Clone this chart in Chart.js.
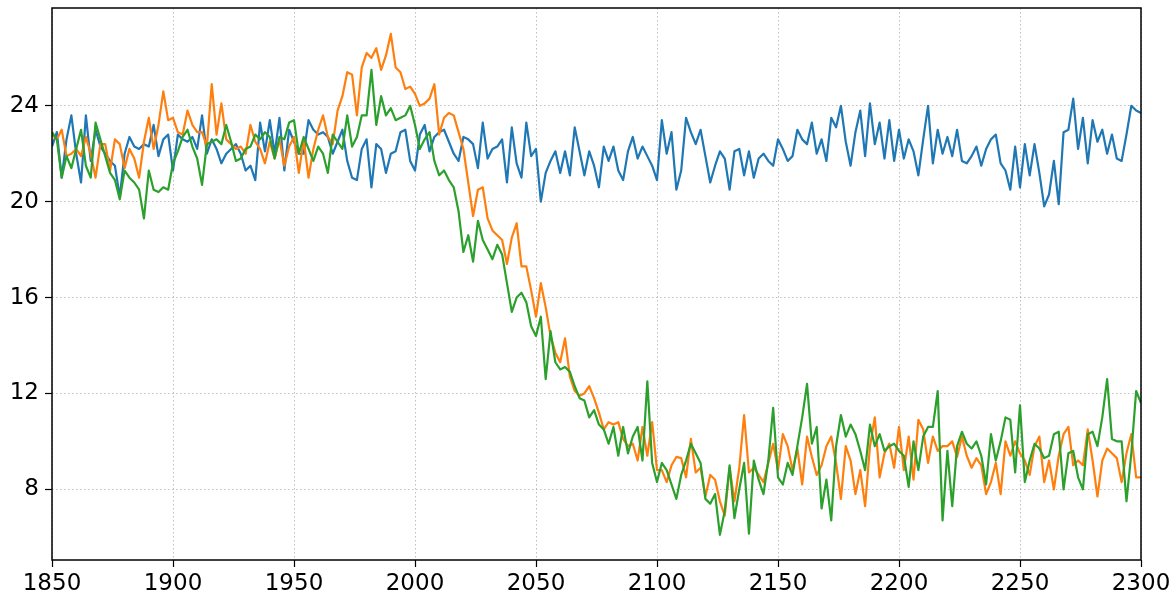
<!DOCTYPE html>
<html>
<head>
<meta charset="utf-8">
<script src="https://cdn.jsdelivr.net/npm/chart.js@4/dist/chart.umd.min.js"></script>
<style>
  html, body { margin: 0; padding: 0; background: #fff; }
  #chart { display: block; }
</style>
</head>
<body>
<canvas id="chart" width="1175" height="598"></canvas>
<script>
// --- Data (one value every 2 years) ---
const firstYear = 1850;
const yearStep = 2;
const xTicks = [1850, 1900, 1950, 2000, 2050, 2100, 2150, 2200, 2250, 2300];
const yTicks = [8, 12, 16, 20, 24];

const blueSeries = [
  22.3, 22.9, 21.0, 22.6, 23.6, 22.0, 20.8, 23.6, 21.7, 23.0,
  22.3, 22.0, 21.7, 21.5, 20.2, 22.0, 22.7, 22.3, 22.2, 22.4,
  22.3, 23.2, 21.9, 22.6, 22.8, 21.3, 22.8, 22.6, 22.5, 22.7,
  22.2, 23.6, 22.0, 22.6, 22.2, 21.6, 22.0, 22.2, 22.4, 22.0,
  21.3, 21.5, 20.9, 23.3, 22.1, 23.4, 22.0, 23.5, 21.3, 23.0,
  22.5, 22.0, 22.0, 23.4, 23.0, 22.8, 22.9, 22.7, 22.0, 22.5,
  23.0, 21.7, 21.0, 20.9, 22.2, 22.6, 20.6, 22.4, 22.2, 21.2,
  22.0, 22.1, 22.9, 23.0, 21.7, 21.3, 22.8, 23.2, 22.1, 22.7,
  22.9, 23.0, 22.5, 22.0, 21.7, 22.7, 22.6, 22.4, 21.4, 23.3,
  21.8, 22.2, 22.3, 22.6, 20.8, 23.1, 21.6, 21.0, 23.3, 21.9,
  22.2, 20.0, 21.2, 21.7, 22.1, 21.2, 22.1, 21.1, 23.1, 22.1,
  21.1, 22.1, 21.5, 20.6, 22.3, 21.7, 22.3, 21.3, 20.9, 22.1,
  22.7, 21.8, 22.3, 21.9, 21.5, 20.9, 23.4, 22.0, 22.9, 20.5,
  21.3, 23.5, 22.9, 22.4, 23.0, 21.9, 20.8, 21.5, 22.1, 21.8,
  20.5, 22.1, 22.2, 21.1, 22.1, 21.0, 21.8, 22.0, 21.7, 21.5,
  22.6, 22.2, 21.7, 21.9, 23.0, 22.6, 22.4, 23.3, 22.0, 22.6,
  21.7, 23.5, 23.1, 24.0, 22.5, 21.5, 22.9, 23.8, 21.9, 24.1,
  22.4, 23.3, 21.8, 23.4, 21.7, 23.0, 21.8, 22.6, 22.1, 21.1,
  22.6, 24.0, 21.6, 23.0, 22.0, 22.7, 21.9, 23.0, 21.7, 21.6,
  21.9, 22.3, 21.5, 22.2, 22.6, 22.8, 21.6, 21.3, 20.5, 22.3,
  20.6, 22.4, 21.1, 22.4, 21.2, 19.8, 20.3, 21.7, 19.9, 22.9,
  23.0, 24.3, 22.2, 23.5, 21.6, 23.4, 22.5, 23.0, 22.0, 22.8,
  21.8, 21.7, 22.8, 24.0, 23.8, 23.7
];

const orangeSeries = [
  22.8, 22.6, 23.0, 21.9, 22.0, 22.2, 21.9, 22.7, 22.0, 21.0,
  22.4, 22.4, 21.3, 22.6, 22.4, 21.4, 22.2, 21.8, 21.0, 22.5,
  23.5, 22.2, 23.2, 24.6, 23.4, 23.5, 22.9, 22.8, 23.8, 23.2,
  22.9, 22.9, 22.3, 24.9, 22.8, 24.1, 22.6, 22.4, 22.2, 22.3,
  22.0, 23.2, 22.5, 22.2, 21.6, 22.5, 21.8, 22.6, 21.5, 22.3,
  22.7, 21.2, 22.6, 21.0, 22.2, 23.0, 23.6, 22.7, 22.4, 23.8,
  24.4, 25.4, 25.3, 23.6, 25.6, 26.2, 26.0, 26.4, 25.5, 26.1,
  27.0, 25.6, 25.4, 24.7, 24.8, 24.5, 24.0, 24.1, 24.3, 24.9,
  22.8, 23.5, 23.7, 23.6, 22.9, 22.2, 20.8, 19.4, 20.5, 20.6,
  19.3, 18.8, 18.6, 18.4, 17.4, 18.5, 19.1, 17.3, 17.3, 16.3,
  15.2, 16.6, 15.6, 14.4, 13.7, 13.3, 14.3, 12.7, 12.1, 11.9,
  12.0, 12.3, 11.8, 11.2, 10.5, 10.8, 10.7, 10.8, 10.1, 9.8,
  9.9, 9.2, 10.6, 9.4, 10.8, 8.8, 8.8, 8.3, 9.0, 9.35,
  9.3, 8.5, 10.1, 8.7, 8.9, 7.7, 8.6, 8.4, 7.5, 6.9,
  8.9, 7.5, 8.9, 11.1, 8.7, 8.9, 8.6, 8.3, 9.1, 9.9,
  8.8, 10.3, 9.8, 8.8, 9.7, 8.2, 10.2, 9.35, 8.6, 9.0,
  9.8, 10.2, 9.1, 7.6, 9.8, 9.2, 7.8, 8.8, 7.3, 9.8,
  11.0, 8.5, 9.5, 9.9, 8.9, 10.6, 8.8, 10.2, 8.4, 10.9,
  10.5, 9.1, 10.2, 9.6, 9.8, 9.8, 10.0, 9.35, 10.2, 9.4,
  8.9, 9.3, 9.0, 7.8, 8.3, 9.1, 7.8, 10.0, 9.4, 10.0,
  9.5, 9.2, 8.6, 9.8, 10.2, 8.3, 9.2, 8.0, 9.4, 10.3,
  10.6, 9.0, 9.2, 9.0, 10.5, 9.2, 7.7, 9.2, 9.7, 9.5,
  9.3, 8.3, 9.5, 10.3, 8.5, 8.5
];

const greenSeries = [
  22.9, 22.6, 21.0, 21.9, 21.4, 22.2, 23.0, 21.5, 21.0, 23.3,
  22.6, 21.9, 21.2, 20.9, 20.1, 21.3, 21.0, 20.8, 20.5, 19.3,
  21.3, 20.5, 20.4, 20.6, 20.5, 21.6, 22.1, 22.7, 23.0, 22.3,
  21.8, 20.7, 22.4, 22.5, 22.6, 22.4, 23.2, 22.5, 21.7, 21.8,
  22.2, 22.3, 22.8, 22.6, 22.9, 22.7, 21.8, 22.7, 22.6, 23.3,
  23.4, 22.0, 22.7, 22.2, 21.7, 22.3, 22.0, 21.2, 22.8, 22.5,
  22.2, 23.6, 22.3, 22.7, 23.6, 23.6, 25.5, 23.2, 24.4, 23.6,
  23.9, 23.4, 23.5, 23.6, 24.0, 23.2, 22.2, 22.6, 22.9, 21.7,
  21.1, 21.3, 20.9, 20.6, 19.6, 17.9, 18.6, 17.5, 19.2, 18.4,
  18.0, 17.6, 18.2, 17.8, 16.6, 15.4, 16.0, 16.2, 15.8, 14.8,
  14.4, 15.2, 12.6, 14.6, 13.3, 13.0, 13.1, 12.9, 12.3, 11.8,
  11.7, 11.0, 11.3, 10.7, 10.5, 9.9, 10.6, 9.4, 10.6, 9.5,
  10.2, 10.6, 9.2, 12.5, 9.1, 8.3, 9.1, 8.8, 8.2, 7.6,
  8.6, 9.2, 9.9, 9.5, 9.1, 7.6, 7.4, 7.8, 6.1, 7.1,
  9.0, 6.8, 8.0, 9.1, 6.15, 9.2, 8.4, 7.8, 9.2, 11.4,
  8.5, 8.2, 9.1, 8.6, 9.8, 11.0, 12.4, 9.9, 10.6, 7.2,
  8.4, 6.7, 9.8, 11.1, 10.2, 10.7, 10.3, 9.6, 8.8, 10.7,
  9.8, 10.3, 9.6, 9.8, 9.9, 9.6, 9.4, 8.1, 10.0, 8.8,
  10.2, 10.6, 10.6, 12.1, 6.7, 9.6, 7.3, 9.8, 10.4, 9.9,
  9.7, 10.0, 9.4, 8.2, 10.3, 9.2, 10.0, 11.0, 10.9, 8.7,
  11.5, 8.3, 9.2, 9.9, 9.7, 9.3, 9.4, 10.3, 10.4, 8.0,
  9.5, 9.6, 8.5, 8.0, 10.3, 10.4, 9.8, 11.0, 12.6, 10.1,
  10.0, 10.0, 7.5, 9.5, 12.1, 11.6
];

function toPoints(values) {
  return values.map((v, i) => ({ x: firstYear + i * yearStep, y: v }));
}

// black frame round the plot area, like matplotlib spines
const frame = {
  id: 'frame',
  afterDraw(chart) {
    const a = chart.chartArea;
    const ctx = chart.ctx;
    ctx.save();
    ctx.strokeStyle = '#000';
    ctx.lineWidth = 1.5;
    ctx.strokeRect(a.left, a.top, a.right - a.left, a.bottom - a.top);
    ctx.restore();
  }
};

const tickFont = { family: 'DejaVu Sans', size: 23 };

function lineSet(values, color, order) {
  return {
    data: toPoints(values),
    borderColor: color,
    borderWidth: 2.2,
    pointRadius: 0,
    tension: 0,
    borderJoinStyle: 'round',
    order: order
  };
}

// fixed axis sizes so the plot area sits where the reference has it
function noPad(s) {
  s.paddingTop = 0; s.paddingBottom = 0;
  s.paddingLeft = 0; s.paddingRight = 0;
}

new Chart(document.getElementById('chart'), {
  type: 'line',
  data: {
    datasets: [
      lineSet(blueSeries, '#1f77b4', 3),
      lineSet(orangeSeries, '#ff7f0e', 2),
      lineSet(greenSeries, '#2ca02c', 1)
    ]
  },
  options: {
    responsive: false,
    animation: false,
    layout: { padding: { top: 8, right: 34, left: 0, bottom: 0 } },
    plugins: { legend: { display: false }, tooltip: { enabled: false } },
    scales: {
      x: {
        type: 'linear',
        min: 1850,
        max: 2300,
        afterBuildTicks: s => { s.ticks = xTicks.map(v => ({ value: v })); },
        afterFit: s => { s.height = 38; noPad(s); },
        ticks: { font: tickFont, color: '#000', padding: 3, maxRotation: 0, callback: v => String(v) },
        grid: { color: '#b0b0b0', lineWidth: 0.8, tickColor: '#000', tickLength: 7, tickWidth: 1.2 },
        border: { display: false, dash: [1.5, 2.5] }
      },
      y: {
        min: 5.05,
        max: 28.08,
        afterBuildTicks: s => { s.ticks = yTicks.map(v => ({ value: v })); },
        afterFit: s => { s.width = 52; noPad(s); },
        ticks: { font: tickFont, color: '#000', padding: 6, callback: v => String(v) },
        grid: { color: '#b0b0b0', lineWidth: 0.8, tickColor: '#000', tickLength: 7, tickWidth: 1.2 },
        border: { display: false, dash: [1.5, 2.5] }
      }
    }
  },
  plugins: [frame]
});
</script>
</body>
</html>
